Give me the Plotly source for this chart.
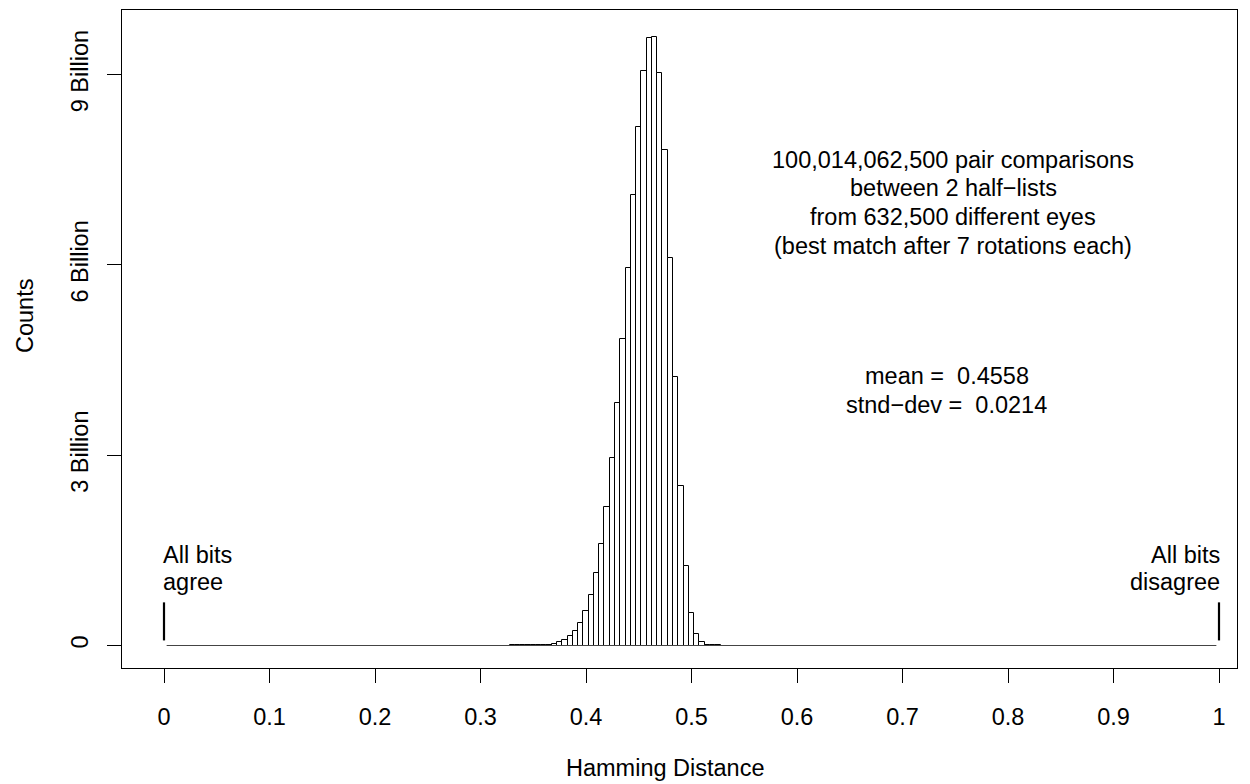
import plotly.graph_objects as go

# ---- data (counts in billions, bin width 0.005, bins centred on multiples of 0.005)
bin_centers = [0.330, 0.335, 0.340, 0.345, 0.350, 0.355, 0.360, 0.365, 0.370, 0.375,
               0.380, 0.385, 0.390, 0.395, 0.400, 0.405, 0.410, 0.415, 0.420, 0.425,
               0.430, 0.435, 0.440, 0.445, 0.450, 0.455, 0.460, 0.465, 0.470, 0.475,
               0.480, 0.485, 0.490, 0.495, 0.500, 0.505, 0.510, 0.515, 0.520, 0.525]
counts_billion = [0.0003, 0.0005, 0.001, 0.0015, 0.002, 0.004, 0.008, 0.015, 0.03, 0.05,
                  0.09, 0.15, 0.23, 0.36, 0.54, 0.80, 1.14, 1.60, 2.19, 2.95,
                  3.83, 4.84, 5.95, 7.11, 8.18, 9.06, 9.57, 9.60, 9.02, 7.81,
                  6.11, 4.23, 2.52, 1.26, 0.52, 0.18, 0.05, 0.015, 0.004, 0.001]
bin_width = 0.005
hist_range = [0.0025, 0.9975]          # extent of the (mostly empty) histogram bins

x_ticks = [0, 0.1, 0.2, 0.3, 0.4, 0.5, 0.6, 0.7, 0.8, 0.9, 1]
x_ticklabels = ["0", "0.1", "0.2", "0.3", "0.4", "0.5", "0.6", "0.7", "0.8", "0.9", "1"]
y_ticks = [0, 3, 6, 9]
y_ticklabels = ["0", "3 Billion", "6 Billion", "9 Billion"]

info_lines = ["100,014,062,500 pair comparisons",
              "between 2 half\u2212lists",
              "from 632,500 different eyes",
              "(best match after 7 rotations each)"]
stat_lines = ["mean =  0.4558", "stnd\u2212dev =  0.0214"]
marker_x = [0, 1]
marker_y = [0.08, 0.68]

FONT = "Liberation Sans, Arial, Helvetica, sans-serif"
FS = 23.5

# geometry helpers (pixel -> data)
Y0PX, PX_PER_B = 645.5, 63.43
def ydat(py):
    return (Y0PX - py) / PX_PER_B

fig = go.Figure()

# baseline formed by the empty bins
fig.add_trace(go.Scatter(x=hist_range, y=[0, 0], mode="lines",
                         line=dict(color="#444444", width=1),
                         hoverinfo="skip", showlegend=False))

fig.add_trace(go.Bar(x=bin_centers, y=counts_billion, width=bin_width,
                     marker=dict(color="white", line=dict(color="black", width=1)),
                     showlegend=False))

# vertical markers at 0 and 1
for mx in marker_x:
    fig.add_trace(go.Scatter(x=[mx, mx], y=marker_y, mode="lines",
                             line=dict(color="black", width=2.2),
                             hoverinfo="skip", showlegend=False))

annotations = []
info_py = [160, 188, 217, 246]
for txt, py in zip(info_lines, info_py):
    annotations.append(dict(x=0.748, y=ydat(py), xref="x", yref="y", text=txt,
                            showarrow=False, xanchor="center", yanchor="middle",
                            font=dict(family=FONT, size=FS, color="black")))
stat_py = [376, 405]
for txt, py in zip(stat_lines, stat_py):
    annotations.append(dict(x=0.742, y=ydat(py), xref="x", yref="y", text=txt,
                            showarrow=False, xanchor="center", yanchor="middle",
                            font=dict(family=FONT, size=FS, color="black")))
end_py = [555, 582]
for txt, py in zip(["All bits", "agree"], end_py):
    annotations.append(dict(x=0, y=ydat(py), xref="x", yref="y", text=txt,
                            showarrow=False, xanchor="left", yanchor="middle",
                            xshift=-3,
                            font=dict(family=FONT, size=FS, color="black")))
for txt, py in zip(["All bits", "disagree"], end_py):
    annotations.append(dict(x=1, y=ydat(py), xref="x", yref="y", text=txt,
                            showarrow=False, xanchor="right", yanchor="middle",
                            xshift=3,
                            font=dict(family=FONT, size=FS, color="black")))
# axis titles
annotations.append(dict(x=0.475, y=-0.152, xref="x", yref="paper", text="Hamming Distance",
                        showarrow=False, xanchor="center", yanchor="middle",
                        font=dict(family=FONT, size=FS, color="black")))
annotations.append(dict(x=-0.087, y=ydat(316), xref="paper", yref="y", text="Counts",
                        textangle=-90, showarrow=False, xanchor="center", yanchor="middle",
                        font=dict(family=FONT, size=FS, color="black")))

fig.update_layout(
    width=1250, height=784,
    margin=dict(l=122, r=13, t=10, b=116),
    paper_bgcolor="white", plot_bgcolor="white",
    bargap=0,
    font=dict(family=FONT, size=FS, color="black"),
    annotations=annotations,
    xaxis=dict(range=[(122 - 164) / 1055, (1237 - 164) / 1055],
               tickvals=x_ticks, ticktext=x_ticklabels,
               ticks="outside", ticklen=14, tickwidth=1, tickcolor="black",
               showline=True, linecolor="black", linewidth=1, mirror=True,
               showgrid=False, zeroline=False, ticklabelstandoff=14,
               tickfont=dict(family=FONT, size=FS, color="black")),
    yaxis=dict(range=[ydat(668), ydat(10)],
               tickvals=y_ticks, ticktext=y_ticklabels, tickangle=-90,
               ticks="outside", ticklen=14, tickwidth=1, tickcolor="black",
               showline=True, linecolor="black", linewidth=1, mirror=True,
               showgrid=False, zeroline=False, ticklabelstandoff=10,
               tickfont=dict(family=FONT, size=FS, color="black")),
)

fig.write_html("out.html")
